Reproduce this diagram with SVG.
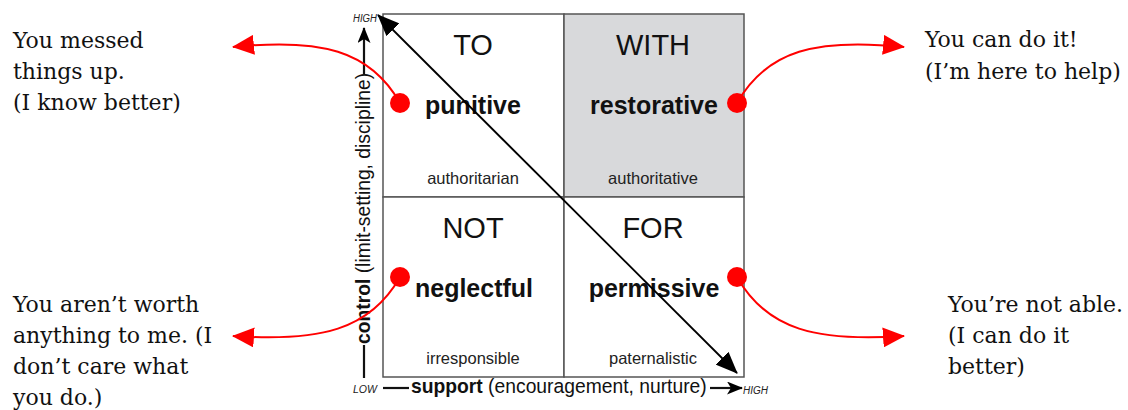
<svg xmlns="http://www.w3.org/2000/svg" width="1128" height="410" viewBox="0 0 1128 410">
<style>
.q{fill:#fff;stroke:#555;stroke-width:1.5}
.qg{fill:#d8d9db;stroke:#555;stroke-width:1.5}
.big{font-family:"Liberation Sans",Arial,sans-serif;font-size:29px;fill:#111;text-anchor:middle}
.bold{font-family:"Liberation Sans",Arial,sans-serif;font-size:25px;font-weight:bold;fill:#111;text-anchor:middle}
.sm{font-family:"Liberation Sans",Arial,sans-serif;font-size:16.5px;fill:#222;text-anchor:middle}
.ax{font-family:"Liberation Sans",Arial,sans-serif;font-size:19.3px;fill:#111}
.tiny{font-family:"Liberation Sans",Arial,sans-serif;font-size:10px;font-style:italic;fill:#222}
.note{font-family:"DejaVu Serif","Liberation Serif",serif;font-size:22px;fill:#111}
.axl{stroke:#111;stroke-width:2.2;fill:none}
.red{stroke:#f00;stroke-width:2;fill:none;marker-end:url(#ra)}
.dot{fill:#f00}
</style>
<defs>
<marker id="ba" viewBox="0 0 22 18" refX="21" refY="9" markerWidth="22" markerHeight="18" markerUnits="userSpaceOnUse" orient="auto-start-reverse"><path d="M0,0 L22,9 L0,18 z" fill="#000"/></marker>
<marker id="ra" viewBox="0 0 22 20" refX="21" refY="10" markerWidth="22" markerHeight="20" markerUnits="userSpaceOnUse" orient="auto"><path d="M0,0 L22,10 L0,20 z" fill="#f00"/></marker>
<marker id="sa" viewBox="0 0 16 13" refX="15" refY="6.5" markerWidth="16" markerHeight="13" markerUnits="userSpaceOnUse" orient="auto"><path d="M0,0 L16,6.5 L0,13 L4,6.5 z" fill="#000"/></marker>
</defs>

<g id="q-to">
<rect class="q" x="383" y="14" width="181" height="183"/>
<text class="big" x="473" y="55">TO</text>
<text class="bold" x="473" y="114">punitive</text>
<text class="sm" x="473" y="184">authoritarian</text>
</g>
<g id="q-with">
<rect class="qg" x="564" y="14" width="180" height="183"/>
<text class="big" x="653" y="55">WITH</text>
<text class="bold" x="654" y="114">restorative</text>
<text class="sm" x="653" y="184">authoritative</text>
</g>
<g id="q-not">
<rect class="q" x="383" y="197" width="181" height="180"/>
<text class="big" x="473" y="238">NOT</text>
<text class="bold" x="474" y="297">neglectful</text>
<text class="sm" x="473" y="364">irresponsible</text>
</g>
<g id="q-for">
<rect class="q" x="564" y="197" width="180" height="180"/>
<text class="big" x="653" y="238">FOR</text>
<text class="bold" x="654" y="297">permissive</text>
<text class="sm" x="653" y="364">paternalistic</text>
</g>

<g id="axis-y">
<text class="tiny" x="353" y="22" textLength="24" lengthAdjust="spacingAndGlyphs">HIGH</text>
<text class="ax" transform="translate(370,344) rotate(-90)"><tspan font-weight="bold">control</tspan> (limit-setting, discipline)</text>
</g>
<g id="axis-x">
<text class="tiny" x="353" y="393" textLength="24" lengthAdjust="spacingAndGlyphs">LOW</text>
<text class="ax" x="411" y="393"><tspan font-weight="bold">support</tspan> (encouragement, nurture)</text>
<text class="tiny" x="743" y="394" textLength="25" lengthAdjust="spacingAndGlyphs">HIGH</text>
</g>

<g id="note-tl">
<text class="note" x="13" y="48">You messed</text>
<text class="note" x="13" y="79">things up.</text>
<text class="note" x="13" y="110">(I know better)</text>
</g>
<g id="note-tr">
<text class="note" x="925" y="47">You can do it!</text>
<text class="note" x="925" y="79">(I’m here to help)</text>
</g>
<g id="note-bl">
<text class="note" x="13" y="312">You aren’t worth</text>
<text class="note" x="13" y="343">anything to me. (I</text>
<text class="note" x="13" y="374">don’t care what</text>
<text class="note" x="13" y="405">you do.)</text>
</g>
<g id="note-br">
<text class="note" x="948" y="312">You’re not able.</text>
<text class="note" x="948" y="343">(I can do it</text>
<text class="note" x="948" y="374">better)</text>
</g>

<g id="connectors">
<line class="axl" x1="364" y1="378" x2="364" y2="345"/>
<line class="axl" x1="364" y1="74" x2="364" y2="28" marker-end="url(#sa)"/>
<line class="axl" x1="383" y1="388" x2="409" y2="388"/>
<line class="axl" x1="710" y1="388" x2="742" y2="388" marker-end="url(#sa)"/>
<line x1="378" y1="15" x2="737" y2="373" stroke="#000" stroke-width="1.8" marker-start="url(#ba)" marker-end="url(#ba)"/>
<path class="red" d="M400,103 C370,50 320,38 233,47"/>
<path class="red" d="M737,103 C767,50 817,38 904,47"/>
<path class="red" d="M400,277 C370,330 320,342 233,336"/>
<path class="red" d="M737,277 C767,330 817,342 904,336"/>
<circle class="dot" cx="400" cy="103" r="10"/>
<circle class="dot" cx="737" cy="103" r="10"/>
<circle class="dot" cx="400" cy="277" r="10"/>
<circle class="dot" cx="737" cy="277" r="10"/>
</g>
</svg>
